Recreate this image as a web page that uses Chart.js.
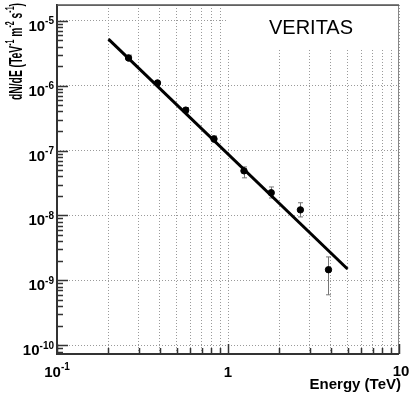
<!DOCTYPE html>
<html>
<head>
<meta charset="utf-8">
<script src="https://cdn.jsdelivr.net/npm/chart.js@4.4.1/dist/chart.umd.min.js"></script>
<style>
    html, body { margin: 0; padding: 0; background: #fff; }
</style>
</head>
<body>
<canvas id="veritas" width="409" height="393"></canvas>
<script>
// measured spectrum points (TeV, TeV^-1 m^-2 s^-1)
const energies = [0.262, 0.387, 0.566, 0.828, 1.24, 1.79, 2.65, 3.87];
const fluxes = [2.67e-6, 1.10e-6, 4.2e-7, 1.51e-7, 4.87e-8, 2.24e-8, 1.22e-8, 1.46e-9];
const fluxHigh = [2.95e-6, 1.20e-6, 4.6e-7, 1.68e-7, 5.6e-8, 2.75e-8, 1.57e-8, 2.3e-9];
const fluxLow = [2.40e-6, 1.00e-6, 3.8e-7, 1.35e-7, 3.8e-8, 1.86e-8, 9.5e-9, 6.0e-10];

// power-law fit, end points
const fitEnergies = [0.2, 5];
const fitFluxes = [5.2e-6, 1.5e-9];

const xTicks = [0.1, 0.2, 0.3, 0.4, 0.5, 0.6, 0.7, 0.8, 0.9, 1, 2, 3, 4, 5, 6, 7, 8, 9, 10];
const xLabels = [[0.1, '10', '-1'], [1, '1', ''], [10, '10', '']];
const yTicks = [1e-10, 1e-9, 1e-8, 1e-7, 1e-6, 1e-5];
const yExponents = ['-10', '-9', '-8', '-7', '-6', '-5'];

const FONT = 'Liberation Sans, Arial, sans-serif';

// draws "base^exp" at x,y; returns width
const drawPow = (ctx, base, exp, x, y, align, size) => {
    const small = Math.round(size * 0.68);
    ctx.font = `bold ${size}px ${FONT}`;
    const wb = ctx.measureText(base).width;
    ctx.font = `bold ${small}px ${FONT}`;
    const we = exp ? ctx.measureText(exp).width : 0;
    const total = wb + we;
    let x0 = x;
    if (align === 'right') x0 = x - total;
    if (align === 'center') x0 = x - total / 2;
    ctx.textAlign = 'left';
    ctx.textBaseline = 'alphabetic';
    ctx.font = `bold ${size}px ${FONT}`;
    ctx.fillText(base, x0, y);
    if (exp) {
        ctx.font = `bold ${small}px ${FONT}`;
        ctx.fillText(exp, x0 + wb, y - size * 0.45);
    }
    return total;
};

const spectrumPlugin = {
    id: 'spectrum',
    beforeDatasetsDraw(chart) {
        const { ctx, chartArea: a, scales: { x, y } } = chart;
        ctx.save();
        // legend box over the grid
        ctx.fillStyle = '#fff';
        ctx.fillRect(228, a.top, a.right - 228, 48 - a.top);
        ctx.fillStyle = '#000';
        ctx.font = `20px ${FONT}`;
        ctx.textAlign = 'center';
        ctx.textBaseline = 'alphabetic';
        ctx.fillText('VERITAS', 311, 34);

        // error bars
        ctx.strokeStyle = '#777';
        ctx.lineWidth = 1;
        energies.forEach((e, i) => {
            const px = Math.round(x.getPixelForValue(e)) + 0.5;
            const top = y.getPixelForValue(fluxHigh[i]);
            const bot = y.getPixelForValue(fluxLow[i]);
            ctx.beginPath();
            ctx.moveTo(px, top);
            ctx.lineTo(px, bot);
            ctx.moveTo(px - 2.5, top);
            ctx.lineTo(px + 2.5, top);
            ctx.moveTo(px - 2.5, bot);
            ctx.lineTo(px + 2.5, bot);
            ctx.stroke();
        });
        ctx.restore();
    },
    afterDraw(chart) {
        const { ctx, chartArea: a, scales: { x, y } } = chart;
        ctx.save();

        // frame
        ctx.strokeStyle = '#888';
        ctx.lineWidth = 1;
        ctx.strokeRect(a.left, a.top + 0.5, a.right - a.left - 0.5, a.bottom - a.top);
        ctx.strokeStyle = '#333';
        ctx.lineWidth = 2;
        ctx.beginPath();
        ctx.moveTo(a.left, a.top - 1);
        ctx.lineTo(a.left, a.bottom);
        ctx.lineTo(a.right, a.bottom);
        ctx.stroke();
        ctx.strokeStyle = '#555';
        ctx.lineWidth = 1.5;
        ctx.beginPath();
        ctx.moveTo(a.left, a.top);
        ctx.lineTo(a.right, a.top);
        ctx.stroke();

        // tick marks
        ctx.strokeStyle = '#333';
        ctx.lineWidth = 1.5;
        ctx.beginPath();
        xTicks.forEach((v) => {
            const px = Math.round(x.getPixelForValue(v)) + 0.5;
            const major = [0.1, 1, 10].includes(v);
            ctx.moveTo(px, a.bottom);
            ctx.lineTo(px, a.bottom - (major ? 10 : 6));
        });
        const yMin = Math.log10(y.min);
        const yMax = Math.log10(y.max);
        for (let d = Math.floor(yMin); d <= Math.ceil(yMax); d++) {
            for (let m = 1; m <= 9; m++) {
                const v = m * Math.pow(10, d);
                const lv = Math.log10(v);
                if (lv < yMin || lv > yMax) continue;
                const py = Math.round(y.getPixelForValue(v)) + 0.5;
                ctx.moveTo(a.left, py);
                ctx.lineTo(a.left + (m === 1 ? 11 : 6), py);
            }
        }
        ctx.stroke();

        // tick labels
        ctx.fillStyle = '#000';
        yTicks.forEach((v, i) => {
            const py = y.getPixelForValue(v);
            drawPow(ctx, '10', yExponents[i], 54, py + 10, 'right', 15);
        });
        xLabels.forEach(([v, base, exp]) => {
            const px = x.getPixelForValue(v) + (v === 10 ? 2 : 0);
            drawPow(ctx, base, exp, px, v === 10 ? 376 : 377, 'center', 15);
        });

        // axis titles
        ctx.font = `bold 15px ${FONT}`;
        ctx.textAlign = 'right';
        ctx.fillText('Energy (TeV)', 401, 389);

        // y title, squeezed along its length like the original
        const parts = [['dN/dE (TeV', false], ['-1', true], [' m', false], ['-2', true], [' s', false], ['-1', true], [')', false]];
        const fontOf = (sup) => (sup ? `bold 13px ${FONT}` : `bold 19px ${FONT}`);
        let len = 0;
        parts.forEach(([t, sup]) => {
            ctx.font = fontOf(sup);
            len += ctx.measureText(t).width;
        });
        ctx.translate(22, 100);
        ctx.rotate(-Math.PI / 2);
        ctx.scale(97 / len, 1);
        let cx = 0;
        ctx.textAlign = 'left';
        parts.forEach(([t, sup]) => {
            ctx.font = fontOf(sup);
            ctx.fillText(t, cx, sup ? -8 : 0);
            cx += ctx.measureText(t).width;
        });
        ctx.restore();
    },
};

const axisBase = {
    type: 'logarithmic',
    ticks: { display: false, autoSkip: false },
    title: { display: false },
    border: { display: false, dash: [1, 2] },
    grid: { color: '#9a9a9a', lineWidth: 1, drawTicks: false },
};

new Chart(document.getElementById('veritas'), {
    type: 'scatter',
    data: {
        datasets: [
            {
                label: 'fit',
                data: fitEnergies.map((e, i) => ({ x: e, y: fitFluxes[i] })),
                showLine: true,
                borderColor: '#000',
                borderWidth: 3,
                pointRadius: 0,
            },
            {
                label: 'VERITAS',
                data: energies.map((e, i) => ({ x: e, y: fluxes[i] })),
                backgroundColor: '#000',
                borderColor: '#000',
                pointRadius: 3.2,
            },
        ],
    },
    options: {
        responsive: false,
        animation: false,
        layout: { padding: { left: 57, top: 5, right: 10, bottom: 39 } },
        plugins: { legend: { display: false }, tooltip: { enabled: false } },
        scales: {
            x: {
                ...axisBase,
                min: 0.1,
                max: 10,
                afterBuildTicks: (s) => { s.ticks = xTicks.map((v) => ({ value: v })); },
            },
            y: {
                ...axisBase,
                min: 7.35e-11,
                max: 1.746e-5,
                afterBuildTicks: (s) => { s.ticks = yTicks.map((v) => ({ value: v })); },
            },
        },
    },
    plugins: [spectrumPlugin],
});
</script>
</body>
</html>
